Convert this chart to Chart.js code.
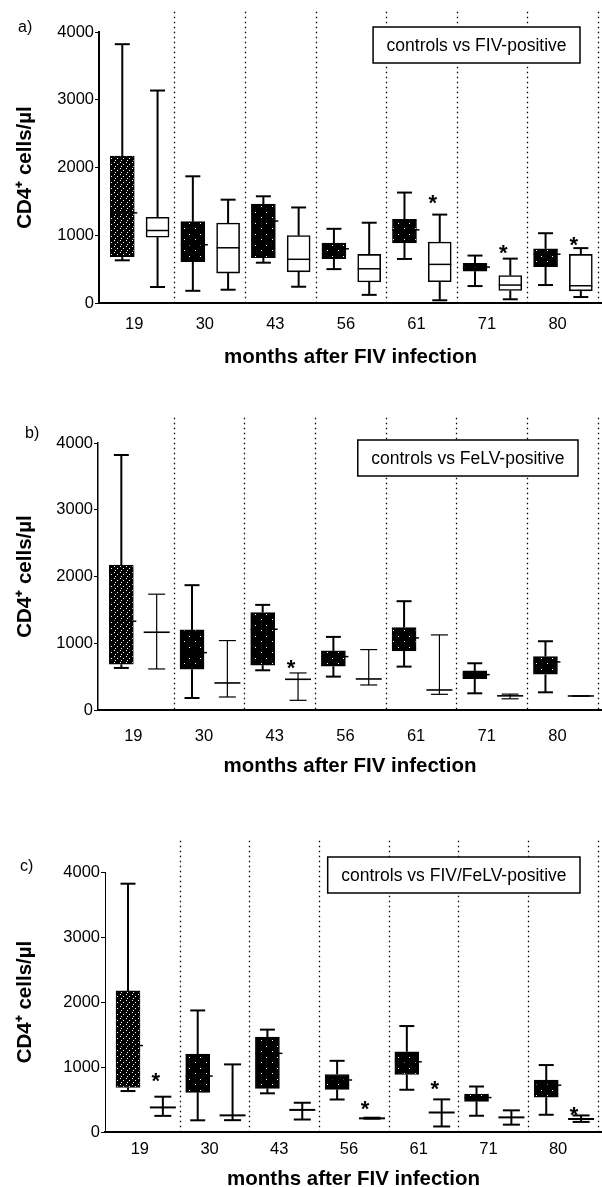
<!DOCTYPE html>
<html>
<head>
<meta charset="utf-8">
<script src="https://cdn.jsdelivr.net/npm/chart.js@4.4.1/dist/chart.umd.min.js"></script>
<style>
  html, body { margin: 0; padding: 0; background: #fff; overflow: hidden; }
  #page { position: relative; width: 602px; height: 1187px; overflow: hidden; }
  .panel { position: absolute; left: 0; width: 602px; }
  .tag { position: absolute; font: 16px "Liberation Sans", Arial, sans-serif; color: #000; line-height: 18px; }
</style>
</head>
<body>
<div id="page">
  <div class="panel" style="top:0;height:372px"><canvas id="chartA"></canvas></div>
  <div class="panel" style="top:380px;height:400px"><canvas id="chartB"></canvas></div>
  <div class="panel" style="top:790px;height:402px"><canvas id="chartC"></canvas></div>
  <div class="tag" style="left:18px;top:18px">a)</div>
  <div class="tag" style="left:25px;top:424px">b)</div>
  <div class="tag" style="left:20px;top:857px">c)</div>
</div>
<script>
// time points (months after FIV infection)
const months = ['19', '30', '43', '56', '61', '71', '80'];
const yTicks = [0, 1000, 2000, 3000, 4000];

// controls - same animals in all three panels
const ctrlMin = [630, 180, 595, 500, 650, 250, 265];
const ctrlQ1  = [685, 610, 670, 655, 885, 470, 535];
const ctrlMed = [1330, 860, 1210, 800, 1080, 530, 720];
const ctrlQ3  = [2170, 1200, 1460, 885, 1235, 585, 800];
const ctrlMax = [3820, 1870, 1575, 1095, 1630, 700, 1030];

// FIV-positive
const fivMin = [236, 196, 240, 120, 40, 55, 88];
const fivQ1  = [972, 442, 460, 310, 315, 185, 180];
const fivMed = [1070, 815, 645, 505, 570, 265, 255];
const fivQ3  = [1266, 1180, 995, 717, 900, 405, 717];
const fivMax = [3136, 1525, 1410, 1185, 1305, 655, 810];
const fivStar = [null, null, null, null, 1545, 805, 930];

// FeLV-positive
const felvMin = [615, 195, 145, 375, 235, 168, 210];
const felvMed = [1165, 405, 460, 465, 300, 212, 210];
const felvMax = [1735, 1040, 555, 905, 1125, 238, 210];
const felvStar = [null, null, 700, null, null, null, null];

// FIV/FeLV-positive
const bothMin = [248, 182, 192, 205, 85, 113, 155];
const bothMed = [378, 256, 340, 210, 300, 225, 200];
const bothMax = [543, 1040, 450, 220, 502, 333, 255];
const bothStar = [860, null, null, 425, 745, null, 345];

// position of things inside one time point slot (x units)
const CTRL_OFF = 0.33;
const INF_OFF = 0.83;
const SEP_OFF = 0.07;
const LABEL_OFF = 0.5;
const X_MAX = 7.13;

const FONT = '"Liberation Sans", Arial, Helvetica, sans-serif';

// speckled black fill of the control boxes
function makePattern(size, dots, base) {
    const c = document.createElement('canvas');
    c.width = size;
    c.height = size;
    const g = c.getContext('2d');
    g.fillStyle = base;
    g.fillRect(0, 0, size, size);
    g.fillStyle = '#fff';
    dots.forEach(d => g.fillRect(d[0], d[1], 1, 1));
    return g.createPattern(c, 'repeat');
}
const densePat = makePattern(6, [[0, 0], [3, 2], [1, 4]], '#000');
const sparsePat = makePattern(11, [[2, 3], [8, 8]], '#000');

function boxPlugin(spec) {
    const line = (ctx, x0, y0, x1, y1) => {
        ctx.beginPath();
        ctx.moveTo(x0, y0);
        ctx.lineTo(x1, y1);
        ctx.stroke();
    };
    return {
        id: 'boxes',
        beforeDatasetsDraw(chart) {
            const ctx = chart.ctx, x = chart.scales.x, y = chart.scales.y;
            // dotted separators between time points
            ctx.save();
            ctx.strokeStyle = '#000';
            ctx.lineWidth = 1.3;
            ctx.setLineDash([1.5, 3.5]);
            for (let i = 1; i <= months.length; i++) {
                const px = Math.round(x.getPixelForValue(i + SEP_OFF)) + 0.5;
                line(ctx, px, y.getPixelForValue(spec.sepTop), px, y.getPixelForValue(0));
            }
            ctx.restore();
        },
        afterDatasetsDraw(chart) {
            const ctx = chart.ctx, x = chart.scales.x, y = chart.scales.y;
            ctx.save();
            ctx.strokeStyle = '#000';
            ctx.lineCap = 'butt';

            // whiskers, caps, medians
            spec.series.forEach(s => {
                months.forEach((m, i) => {
                    const cx = x.getPixelForValue(i + s.off);
                    const pMin = y.getPixelForValue(s.min[i]);
                    const pMax = y.getPixelForValue(s.max[i]);
                    const pMed = y.getPixelForValue(s.med[i]);
                    ctx.lineWidth = s.lw;
                    if (s.q1) {
                        line(ctx, cx, y.getPixelForValue(s.q3[i]), cx, pMax);
                        line(ctx, cx, y.getPixelForValue(s.q1[i]), cx, pMin);
                    } else {
                        line(ctx, cx, pMin, cx, pMax);
                    }
                    line(ctx, cx - s.cap / 2, pMax, cx + s.cap / 2, pMax);
                    line(ctx, cx - s.cap / 2, pMin, cx + s.cap / 2, pMin);
                    ctx.lineWidth = s.medLw;
                    line(ctx, cx - s.medW / 2, pMed, cx + s.medW / 2 + s.medOut, pMed);
                });
            });

            // significance marks
            ctx.fillStyle = '#000';
            ctx.font = 'bold 22px ' + FONT;
            ctx.textAlign = 'center';
            ctx.textBaseline = 'alphabetic';
            spec.stars.forEach((v, i) => {
                if (v == null) return;
                ctx.fillText('*', x.getPixelForValue(i + INF_OFF) - 7, y.getPixelForValue(v) + 12);
            });

            // legend box
            ctx.font = '17.5px ' + FONT;
            const tw = ctx.measureText(spec.legend).width;
            const bw = tw + 27, bh = 36;
            const bx = chart.chartArea.right - spec.legendRight - bw;
            const by = chart.chartArea.top + spec.legendTop;
            ctx.fillStyle = '#fff';
            ctx.fillRect(bx, by, bw, bh);
            ctx.lineWidth = 1.5;
            ctx.strokeRect(bx, by, bw, bh);
            ctx.fillStyle = '#000';
            ctx.textBaseline = 'middle';
            ctx.fillText(spec.legend, bx + bw / 2, by + bh / 2 + 1);
            ctx.restore();
        }
    };
}

function boxData(q1, q3, off) {
    return q1.map((v, i) => ({ x: i + off, y: [v, q3[i]] }));
}

function createPanel(canvasId, P) {
    const datasets = [{
        data: boxData(ctrlQ1, ctrlQ3, CTRL_OFF),
        backgroundColor: (c) => c.dataIndex === 0 ? densePat : sparsePat,
        borderColor: '#000',
        borderWidth: 1,
        borderSkipped: false,
        barThickness: 24,
        grouped: false
    }];
    if (P.infBoxes) {
        datasets.push({
            data: boxData(P.infBoxes[0], P.infBoxes[1], INF_OFF),
            backgroundColor: '#fff',
            borderColor: '#000',
            borderWidth: 1.6,
            borderSkipped: false,
            barThickness: 23,
            grouped: false
        });
    }

    return new Chart(document.getElementById(canvasId), {
        type: 'bar',
        data: { datasets },
        plugins: [boxPlugin(P)],
        options: {
            animation: false,
            responsive: true,
            maintainAspectRatio: false,
            devicePixelRatio: 1,
            layout: { padding: { top: P.padTop, bottom: P.padBottom, left: 0, right: 0 } },
            plugins: { legend: { display: false }, tooltip: { enabled: false } },
            scales: {
                x: {
                    type: 'linear',
                    min: 0,
                    max: X_MAX,
                    offset: false,
                    afterBuildTicks: (s) => { s.ticks = months.map((m, i) => ({ value: i + LABEL_OFF })); },
                    ticks: {
                        autoSkip: false,
                        maxRotation: 0,
                        padding: P.tickPad,
                        color: '#000',
                        font: { family: FONT, size: 16.5 },
                        callback: (v, i) => months[i]
                    },
                    grid: { display: false, offset: false },
                    border: { display: true, color: '#000', width: 2 },
                    title: {
                        display: true,
                        text: 'months after FIV infection',
                        color: '#000',
                        font: { family: FONT, size: 20.5, weight: 'bold' },
                        padding: 0
                    },
                    afterFit: (s) => { s.height = P.xH; }
                },
                y: {
                    min: 0,
                    max: 4000,
                    afterBuildTicks: (s) => { s.ticks = yTicks.map(v => ({ value: v })); },
                    ticks: {
                        color: '#000',
                        padding: 1,
                        font: { family: FONT, size: 16.5 },
                        callback: (v) => String(v)
                    },
                    grid: { drawOnChartArea: false, drawTicks: true, tickLength: 4, tickColor: '#000', lineWidth: 1 },
                    border: { display: true, color: '#000', width: P.yAxisW },
                    title: {
                        display: true,
                        text: 'CD4\u207A cells/\u00B5l',
                        color: '#000',
                        font: { family: FONT, size: 20.5, weight: 'bold' },
                        padding: { top: 13, bottom: 0 }
                    },
                    afterFit: (s) => { s.width = P.left; }
                }
            }
        }
    });
}

const ctrlSeries = { off: CTRL_OFF, min: ctrlMin, q1: ctrlQ1, med: ctrlMed, q3: ctrlQ3, max: ctrlMax,
    lw: 2, cap: 15, medLw: 1.5, medW: 24, medOut: 3 };

createPanel('chartA', {
    padTop: 32, padBottom: 2, left: 99, xH: 67, yAxisW: 2, tickPad: 4, sepTop: 4300,
    legend: 'controls vs FIV-positive', legendTop: -5, legendRight: 22,
    infBoxes: [fivQ1, fivQ3],
    series: [ctrlSeries,
        { off: INF_OFF, min: fivMin, q1: fivQ1, med: fivMed, q3: fivQ3, max: fivMax,
          lw: 2, cap: 15, medLw: 1.5, medW: 23, medOut: 0 }],
    stars: fivStar
});

createPanel('chartB', {
    padTop: 63, padBottom: 1, left: 98, xH: 69, yAxisW: 1.5, tickPad: 9, sepTop: 4380,
    legend: 'controls vs FeLV-positive', legendTop: -3, legendRight: 24,
    series: [ctrlSeries,
        { off: INF_OFF, min: felvMin, med: felvMed, max: felvMax,
          lw: 1.2, cap: 17, medLw: 1.6, medW: 26, medOut: 0 }],
    stars: felvStar
});

createPanel('chartC', {
    padTop: 82, padBottom: 0, left: 105, xH: 60, yAxisW: 1, tickPad: 0, sepTop: 4480,
    legend: 'controls vs FIV/FeLV-positive', legendTop: -15, legendRight: 22,
    series: [ctrlSeries,
        { off: INF_OFF, min: bothMin, med: bothMed, max: bothMax,
          lw: 2, cap: 17, medLw: 2, medW: 26, medOut: 0 }],
    stars: bothStar
});
</script>
</body>
</html>
